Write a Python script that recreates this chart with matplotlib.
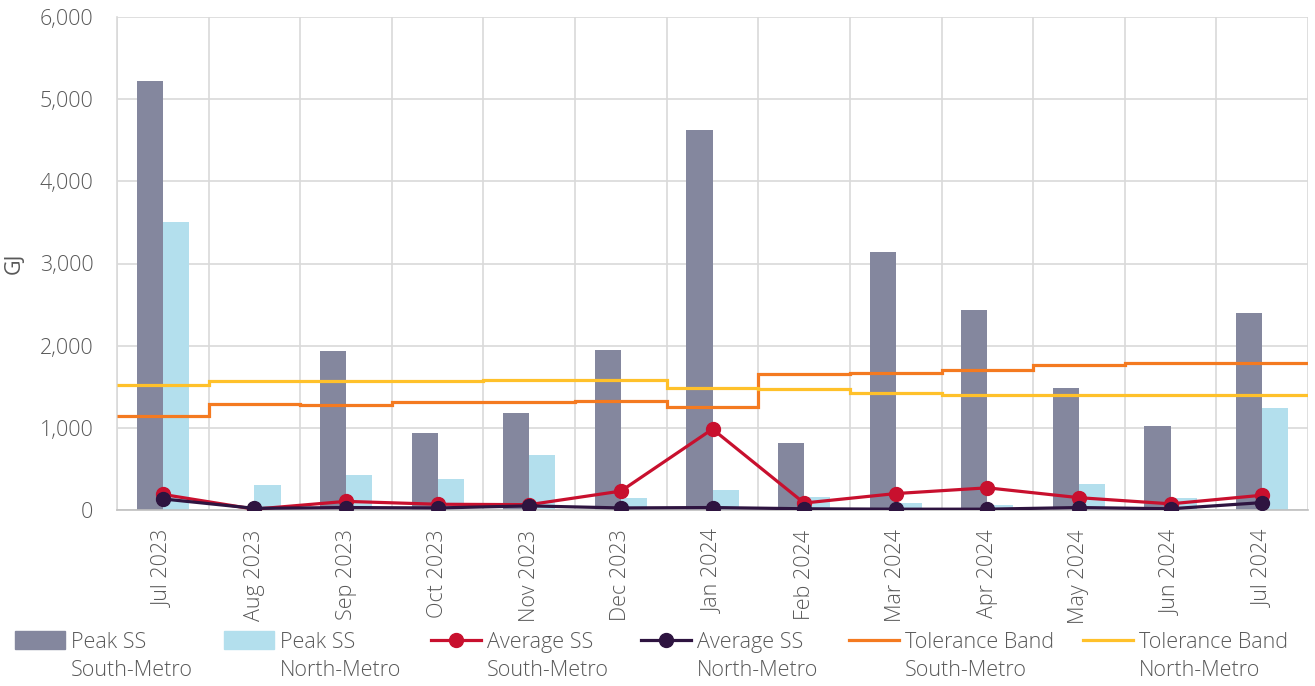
import matplotlib
matplotlib.use("Agg")
import matplotlib.pyplot as plt
from matplotlib.lines import Line2D
from matplotlib.patches import Patch
import numpy as np

months = ["Jul 2023", "Aug 2023", "Sep 2023", "Oct 2023", "Nov 2023", "Dec 2023",
          "Jan 2024", "Feb 2024", "Mar 2024", "Apr 2024", "May 2024", "Jun 2024", "Jul 2024"]
peak_south = [5220, 0, 1930, 940, 1180, 1950, 4630, 820, 3140, 2440, 1480, 1020, 2400]
peak_north = [3510, 305, 425, 380, 670, 140, 245, 160, 80, 60, 315, 150, 1240]
avg_south = [190, 10, 105, 70, 65, 230, 985, 85, 200, 270, 150, 75, 180]
avg_north = [135, 20, 30, 25, 50, 25, 30, 15, 10, 10, 30, 15, 90]
tol_south = [1140, 1290, 1280, 1310, 1318, 1328, 1250, 1655, 1663, 1704, 1769, 1785, 1793]
tol_north = [1521, 1574, 1575, 1575, 1582, 1582, 1480, 1478, 1420, 1400, 1400, 1398, 1398]
yticks = [0, 1000, 2000, 3000, 4000, 5000, 6000]

C_PS = "#84879E"
C_PN = "#B3DFED"
C_AS = "#C8102E"
C_AN = "#2E1440"
C_TS = "#F47A20"
C_TN = "#FFC12A"
TXT = "#595959"
GRID = "#D9D9D9"

plt.rcParams["font.family"] = ["Open Sans", "DejaVu Sans"]
plt.rcParams["font.weight"] = "light"
FS = 15.5

fig = plt.figure(figsize=(13.15, 6.86), dpi=100)
W, H = 1315, 686
ax = fig.add_axes([117 / W, 1 - 510 / H, (1308 - 117) / W, (510 - 17) / H])

x = np.arange(len(months))
bw = 0.285
ax.bar(x - bw / 2, peak_south, bw, color=C_PS, zorder=2)
ax.bar(x + bw / 2, peak_north, bw, color=C_PN, zorder=2)

ax.plot(x, avg_south, color=C_AS, lw=2.3, marker="o", ms=10, zorder=4)
ax.plot(x, avg_north, color=C_AN, lw=2.3, marker="o", ms=10, zorder=5)

edges = np.arange(len(months) + 1) - 0.5
ax.stairs(tol_south, edges, color=C_TS, lw=2.3, baseline=None, zorder=6)
ax.stairs(tol_north, edges, color=C_TN, lw=2.3, baseline=None, zorder=6)

ax.set_xlim(-0.5, len(months) - 0.5)
ax.set_ylim(0, 6000)
ax.set_yticks(yticks)
ax.set_yticklabels([f"{v:,}" for v in yticks])
ax.set_xticks(x)
ax.set_xticklabels(months, rotation=90)
ax.tick_params(axis="both", length=0, labelsize=FS, colors=TXT)
ax.tick_params(axis="x", pad=14)
ax.tick_params(axis="y", pad=17)

ax.set_xticks(edges, minor=True)
ax.tick_params(axis="x", which="minor", length=0)
ax.grid(axis="x", which="minor", color=GRID, lw=1.2, zorder=0)
ax.grid(axis="y", which="major", color=GRID, lw=1.2, zorder=0)
ax.set_axisbelow(True)
for s in ["top", "right"]:
    ax.spines[s].set_visible(False)
ax.spines["left"].set_color(GRID)
ax.spines["left"].set_linewidth(1.2)
ax.spines["bottom"].set_color("#BFBFBF")
ax.spines["bottom"].set_linewidth(1.2)

ax.set_ylabel("GJ", color=TXT, fontsize=FS)
ax.yaxis.set_label_coords(-92 / (1308 - 117), 0.5)

handles = [
    Patch(color=C_PS),
    Patch(color=C_PN),
    Line2D([], [], color=C_AS, lw=2.3, marker="o", ms=10),
    Line2D([], [], color=C_AN, lw=2.3, marker="o", ms=10),
    Line2D([], [], color=C_TS, lw=2.3),
    Line2D([], [], color=C_TN, lw=2.3),
]
line1 = ["Peak SS", "Peak SS", "Average SS", "Average SS", "Tolerance Band", "Tolerance Band"]
line2 = ["South-Metro", "North-Metro", "South-Metro", "North-Metro", "South-Metro", "North-Metro"]
handle_x = [15, 224, 431, 641, 849, 1083]

legs = []
for hx, h, l1 in zip(handle_x, handles, line1):
    lg = fig.legend([h], [l1], loc="center left", bbox_to_anchor=(hx / W, 1 - 642 / H),
                    frameon=False, fontsize=FS, handlelength=2.3, handleheight=0.9,
                    handletextpad=0.28, borderpad=0, borderaxespad=0, labelcolor=TXT)
    legs.append(lg)

fig.canvas.draw()
for lg, l2 in zip(legs, line2):
    t = lg.get_texts()[0]
    bb = t.get_window_extent()
    fig.text(bb.x0 / W, 1 - 670 / H, l2, fontsize=FS, color=TXT, ha="left", va="center")

fig.savefig("out.png", dpi=100)
